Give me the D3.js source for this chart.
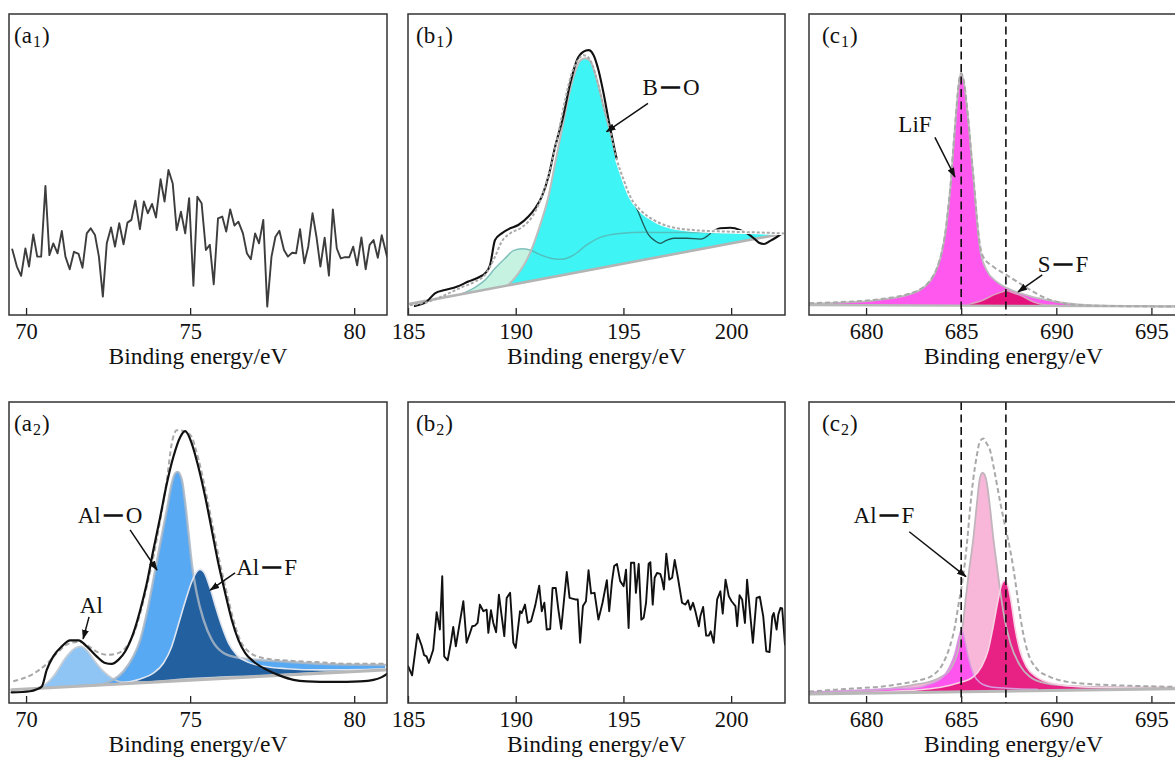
<!DOCTYPE html>
<html>
<head>
<meta charset="utf-8">
<script src="https://cdn.jsdelivr.net/npm/d3@7"></script>
<style>
  html, body { margin: 0; padding: 0; background: #fff; }
  svg { display: block; font-family: "Liberation Serif", "Times New Roman", serif; }
</style>
</head>
<body>
<svg id="chart" width="1175" height="763"></svg>
<script>
// ---------- axis extents and ticks (binding energy, eV) ----------
const aRange = [69.48, 81.0];
const bRange = [185, 202.5];
const cRange = [677, 698.5];
const intensityDomain = [0, 100];
const aTicks = [70, 75, 80];
const bTicks = [185, 190, 195, 200];
const cTicks = [680, 685, 690, 695];
const fRefLines = [685, 687.35];

// ---------- (a1) Al 2p, raw counts ----------
const a1Signal = [[69.58,21.8],[69.72,16.1],[69.85,13.0],[69.98,22.1],[70.09,16.1],[70.22,26.8],[70.34,19.4],[70.46,19.4],[70.59,42.9],[70.71,19.9],[70.83,23.8],[70.96,20.5],[71.09,27.9],[71.20,19.4],[71.33,15.2],[71.46,21.0],[71.60,20.3],[71.72,15.7],[71.85,27.1],[71.97,28.8],[72.10,26.6],[72.22,19.4],[72.34,6.1],[72.46,23.8],[72.59,29.1],[72.71,22.7],[72.84,30.5],[72.97,23.5],[73.09,30.7],[73.21,31.6],[73.33,38.0],[73.47,28.5],[73.59,37.7],[73.71,33.8],[73.84,36.9],[73.96,32.4],[74.10,45.1],[74.22,37.7],[74.34,48.2],[74.47,43.7],[74.59,28.2],[74.72,34.3],[74.85,27.1],[74.97,38.8],[75.10,9.7],[75.22,39.3],[75.35,37.1],[75.48,21.6],[75.60,23.3],[75.72,10.2],[75.85,32.1],[75.98,32.7],[76.10,27.7],[76.22,35.1],[76.35,29.7],[76.47,31.0],[76.61,27.1],[76.73,20.5],[76.85,18.5],[76.98,27.1],[77.10,23.8],[77.23,31.6],[77.35,2.8],[77.48,19.4],[77.60,26.0],[77.72,28.0],[77.86,21.6],[77.98,19.4],[78.11,20.7],[78.23,20.5],[78.35,28.5],[78.48,17.2],[78.60,22.7],[78.73,33.8],[78.85,26.0],[78.97,16.1],[79.10,25.7],[79.23,13.1],[79.35,35.1],[79.47,22.1],[79.59,18.8],[79.72,19.2],[79.85,19.2],[79.97,22.7],[80.09,16.5],[80.22,25.8],[80.35,15.2],[80.47,23.3],[80.59,24.9],[80.72,19.0],[80.84,26.5],[81.00,19.4]];

// ---------- (a2) Al 2p, fitted ----------
const a2Measured = [[69.56,3.5],[70.12,3.9],[70.33,4.6],[70.48,5.5],[70.63,11.0],[70.83,15.5],[71.09,18.8],[71.34,20.8],[71.60,20.8],[71.85,18.8],[72.15,15.5],[72.41,13.3],[72.61,13.0],[72.82,14.4],[73.02,17.1],[73.27,23.2],[73.48,30.9],[73.68,39.8],[73.88,50.8],[74.09,61.9],[74.29,72.9],[74.49,81.8],[74.70,88.4],[74.85,90.3],[75.05,86.2],[75.25,78.5],[75.46,68.5],[75.66,57.5],[75.86,46.4],[76.07,36.5],[76.27,27.6],[76.47,21.0],[76.68,16.6],[76.93,13.8],[77.34,11.0],[77.74,9.1],[78.15,7.7],[78.56,7.2],[79.37,7.0],[80.18,7.2],[80.59,7.7],[80.84,8.6],[81.00,9.7]];
const a2Envelope = [[69.61,7.2],[70.22,9.7],[70.63,13.0],[70.99,17.1],[71.29,19.7],[71.60,20.3],[71.85,19.3],[72.15,17.1],[72.46,16.0],[72.76,16.4],[73.02,18.2],[73.27,22.7],[73.48,29.8],[73.68,38.7],[73.88,48.6],[74.09,60.8],[74.29,74.0],[74.44,86.2],[74.59,90.6],[74.80,90.4],[75.05,88.4],[75.15,85.1],[75.36,76.2],[75.53,67.4],[75.71,57.5],[75.91,46.4],[76.12,36.5],[76.32,27.6],[76.52,21.0],[76.78,17.1],[77.24,14.9],[77.95,14.1],[78.96,13.5],[79.98,13.0],[80.95,13.0]];
const a2Baseline = [[69.56,4.4],[80.94,11.0]];
const a2Al = [[70.33,4.9],[70.58,6.1],[70.83,8.8],[71.24,15.5],[71.49,18.2],[71.67,18.8],[71.85,17.5],[72.10,13.8],[72.36,10.5],[72.66,8.0],[72.97,6.9],[73.48,6.9],[74.90,8.0],[77.34,9.2],[80.94,11.3]];
const a2AlO = [[71.54,5.6],[72.26,6.1],[72.66,7.7],[72.97,10.5],[73.27,15.5],[73.48,21.0],[73.68,29.8],[73.88,40.9],[74.09,53.0],[74.29,64.1],[74.44,72.9],[74.54,76.2],[74.62,76.8],[74.75,74.0],[74.85,66.3],[74.95,56.4],[75.05,46.4],[75.20,36.5],[75.41,27.6],[75.66,21.0],[76.02,16.6],[76.52,14.9],[76.93,14.4],[77.95,13.7],[78.96,13.0],[80.94,12.6]];
const a2AlF = [[72.87,6.6],[73.48,8.0],[73.88,9.9],[74.19,13.3],[74.44,18.8],[74.64,26.0],[74.85,33.7],[75.05,40.3],[75.20,43.6],[75.30,44.4],[75.43,43.3],[75.61,38.1],[75.79,31.5],[75.97,25.4],[76.17,19.9],[76.42,16.0],[76.78,13.5],[77.24,12.2],[77.95,11.4],[78.96,11.0],[80.94,11.3]];

// ---------- (b1) B 1s, fitted ----------
const b1Measured = [[185.32,3.0],[185.86,4.4],[186.25,7.2],[186.71,8.3],[187.26,9.4],[187.80,11.1],[188.34,12.7],[188.57,13.8],[188.81,16.6],[189.04,24.9],[189.35,27.1],[189.74,28.8],[190.12,29.9],[190.59,32.7],[190.90,35.4],[191.21,39.3],[191.52,46.0],[191.83,55.9],[192.18,65.3],[192.53,77.0],[192.84,84.7],[193.15,87.5],[193.38,88.0],[193.61,86.4],[193.84,81.4],[194.08,73.6],[194.31,64.8],[194.47,59.2],[194.70,51.5],[195.01,44.9],[195.32,39.3],[195.78,34.9],[196.40,31.6],[197.18,29.3],[198.26,28.2],[199.04,27.7],[199.50,28.8],[199.97,29.0],[200.43,28.2],[200.74,27.1],[201.05,25.5],[201.29,24.0],[201.52,23.6],[201.83,24.7],[202.14,26.0],[202.37,27.1]];
const b1Envelope = [[185.09,3.3],[185.94,4.4],[186.71,6.6],[187.49,9.2],[188.11,11.1],[188.57,13.3],[189.04,19.4],[189.35,24.4],[189.74,27.1],[190.28,29.1],[190.74,32.4],[191.05,36.5],[191.36,42.6],[191.67,50.4],[191.98,60.4],[192.29,71.4],[192.60,80.3],[192.91,84.9],[193.15,86.3],[193.30,86.0],[193.53,83.6],[193.77,78.1],[194.08,69.2],[194.39,60.9],[194.70,51.5],[195.01,44.9],[195.32,39.3],[195.78,34.9],[196.40,31.6],[197.18,29.3],[198.26,28.2],[199.81,27.7],[201.36,27.4],[202.45,27.1]];
const b1Baseline = [[185.09,3.7],[202.45,27.1]];
const b1BO = [[189.66,10.0],[190.12,13.8],[190.59,19.4],[190.90,24.9],[191.21,31.6],[191.52,39.3],[191.83,50.4],[192.14,61.5],[192.45,72.5],[192.76,80.8],[192.99,84.5],[193.22,85.3],[193.45,84.5],[193.77,78.1],[194.08,69.2],[194.39,60.9],[194.70,51.5],[195.01,44.9],[195.32,39.3],[195.78,34.9],[196.40,31.6],[197.18,29.3],[198.26,28.2],[199.81,27.7],[201.36,27.4],[202.45,27.1]];
const b1Minor = [[187.49,7.0],[188.11,9.2],[188.57,11.6],[189.04,15.5],[189.50,18.8],[189.89,21.4],[190.28,22.0],[190.67,21.6],[191.05,20.3],[191.67,18.8],[192.14,18.5],[192.68,19.9],[193.30,23.3],[193.92,25.8],[194.85,27.1],[195.94,27.5],[196.71,27.4],[197.95,27.4],[199.81,27.4],[201.36,27.2],[202.45,27.1]];
const b1Trace = [[195.32,39.3],[195.63,35.2],[195.94,29.9],[196.17,26.6],[196.48,24.6],[196.71,23.8],[197.02,24.9],[197.33,25.5],[197.95,25.5],[198.57,25.2],[199.04,27.1]];

// ---------- (b2) B 1s, raw counts ----------
const b2Signal = [[185.01,12.2],[185.19,9.2],[185.44,22.9],[185.63,19.1],[185.75,15.9],[185.86,15.5],[185.97,13.3],[186.17,17.7],[186.33,30.2],[186.48,24.4],[186.59,42.1],[186.68,15.5],[186.84,14.2],[186.99,20.0],[187.10,25.3],[187.22,18.8],[187.36,24.9],[187.57,33.8],[187.72,20.0],[187.88,23.3],[187.98,25.5],[188.11,25.7],[188.23,26.6],[188.34,32.7],[188.50,30.5],[188.65,31.0],[188.73,23.3],[188.85,30.8],[188.96,26.6],[189.09,23.5],[189.22,36.0],[189.35,28.8],[189.47,22.2],[189.58,34.9],[189.74,36.6],[189.89,20.0],[190.00,18.3],[190.20,30.5],[190.28,29.9],[190.43,32.7],[190.56,26.6],[190.71,27.2],[190.90,32.2],[191.09,39.0],[191.21,30.5],[191.33,33.3],[191.44,24.4],[191.60,24.6],[191.71,38.2],[191.86,38.2],[191.98,31.0],[192.11,24.6],[192.26,35.5],[192.37,43.5],[192.50,34.9],[192.76,34.4],[192.88,34.4],[192.99,20.0],[193.12,32.2],[193.26,33.8],[193.38,44.1],[193.50,36.4],[193.66,36.6],[193.84,27.7],[194.03,33.3],[194.23,40.8],[194.34,30.5],[194.47,40.5],[194.57,45.5],[194.70,46.2],[194.85,40.5],[195.01,38.8],[195.12,44.3],[195.24,24.9],[195.35,46.6],[195.50,46.6],[195.58,36.6],[195.71,46.2],[195.83,27.7],[195.94,28.3],[196.05,33.3],[196.17,46.3],[196.25,46.8],[196.36,32.7],[196.45,41.6],[196.56,43.2],[196.71,42.9],[196.79,41.0],[196.88,37.7],[196.99,49.6],[197.13,41.0],[197.26,41.6],[197.38,47.5],[197.53,41.6],[197.72,33.3],[197.88,32.7],[198.00,34.1],[198.11,31.0],[198.23,33.3],[198.34,30.5],[198.50,25.5],[198.57,28.8],[198.70,31.9],[198.84,22.4],[198.96,22.4],[199.05,23.8],[199.19,20.0],[199.35,34.4],[199.50,37.1],[199.61,29.7],[199.74,41.0],[199.89,35.5],[200.02,33.8],[200.20,32.2],[200.28,25.5],[200.39,35.8],[200.51,34.4],[200.64,26.6],[200.74,41.0],[200.90,28.3],[201.01,20.0],[201.18,34.9],[201.33,35.3],[201.49,28.8],[201.63,17.2],[201.78,16.9],[201.91,28.8],[201.98,29.9],[202.11,24.4],[202.19,29.4],[202.29,31.6],[202.37,31.4],[202.50,19.4]];

// ---------- (c1) F 1s, fitted ----------
const c1Baseline = [[677.0,3.3],[698.5,2.8]];
const c1Envelope = [[677.0,3.9],[678.63,4.3],[680.38,5.0],[681.25,5.7],[682.13,6.8],[682.83,8.5],[683.35,11.3],[683.70,15.2],[683.97,20.7],[684.19,28.4],[684.33,36.2],[684.46,44.5],[684.58,55.0],[684.72,66.1],[684.84,75.0],[684.93,79.3],[685.00,80.4],[685.07,79.5],[685.18,76.2],[685.28,70.6],[685.42,61.8],[685.54,52.9],[685.67,44.0],[685.77,36.3],[685.88,28.6],[686.02,22.0],[686.16,19.3],[686.68,16.1],[687.38,13.3],[688.08,10.5],[688.78,7.8],[689.48,5.5],[690.36,3.9],[691.23,3.3],[692.81,3.0],[697.0,2.8]];
const c1LiF = [[677.0,3.7],[678.63,4.1],[680.38,4.8],[681.25,5.5],[682.13,6.6],[682.83,8.3],[683.35,11.1],[683.70,15.0],[683.97,20.5],[684.19,28.2],[684.33,36.0],[684.46,44.3],[684.58,54.8],[684.72,65.9],[684.84,74.8],[684.93,79.0],[685.00,80.1],[685.07,79.2],[685.18,75.9],[685.28,70.3],[685.42,61.5],[685.54,52.6],[685.67,43.7],[685.77,36.0],[685.88,28.2],[686.02,21.0],[686.33,15.0],[686.86,11.1],[687.56,8.5],[688.43,6.6],[689.48,5.0],[690.53,3.9],[691.76,3.3],[697.0,2.8]];
const c1SF = [[685.46,3.7],[686.16,5.0],[686.68,6.6],[687.12,7.6],[687.35,8.1],[687.73,7.4],[688.26,6.1],[688.78,4.4],[689.31,3.5],[690.01,3.2]];

// ---------- (c2) F 1s, fitted ----------
const c2Baseline = [[677.0,3.0],[698.5,4.9]];
const c2Envelope = [[677.0,3.8],[679.50,4.9],[680.73,5.4],[681.78,6.3],[682.83,7.6],[683.53,9.3],[684.05,13.2],[684.40,18.7],[684.67,25.4],[684.84,32.0],[685.02,38.6],[685.19,46.4],[685.32,54.2],[685.46,64.1],[685.63,74.1],[685.81,81.8],[685.98,86.8],[686.16,87.9],[686.33,86.3],[686.51,84.1],[686.77,76.3],[687.03,67.4],[687.24,60.8],[687.47,54.2],[687.73,45.3],[687.91,37.5],[688.08,29.8],[688.26,23.1],[688.52,16.5],[688.96,11.5],[689.66,8.7],[690.53,7.1],[691.76,6.3],[693.51,5.8],[697.0,5.3]];
const c2Light = [[677.0,3.3],[679.5,3.9],[681.25,4.8],[682.48,6.0],[683.70,7.9],[684.40,11.0],[684.84,17.6],[685.07,25.4],[685.25,35.3],[685.42,44.2],[685.63,54.2],[685.81,65.2],[685.98,74.6],[686.12,76.5],[686.30,74.6],[686.51,65.2],[686.68,55.3],[686.86,46.4],[687.07,36.4],[687.29,27.6],[687.59,19.8],[688.08,12.6],[688.61,8.7],[689.48,6.5],[690.88,5.6],[693.51,5.2],[697.0,5.1]];
const c2Magenta = [[677.0,3.6],[679.5,4.2],[681.25,4.7],[682.65,5.1],[683.35,6.3],[684.05,8.7],[684.40,12.1],[684.67,16.5],[684.84,20.9],[685.02,24.3],[685.19,20.9],[685.37,15.4],[685.63,9.9],[685.98,6.8],[686.51,5.4],[687.38,4.9],[689.0,4.6]];
const c2Deep = [[680.0,3.4],[681.5,3.9],[683.00,4.5],[684.05,5.4],[684.75,6.5],[685.63,8.7],[686.07,12.1],[686.42,17.6],[686.68,25.4],[686.94,34.2],[687.12,39.2],[687.29,40.6],[687.47,38.6],[687.64,33.1],[687.82,25.4],[688.08,17.6],[688.43,12.1],[688.96,8.7],[689.83,6.5],[691.23,5.4],[693.51,5.0],[697.0,4.9]];

// ---------- layout ----------
const cols = {
  a: { left: 9,   right: 387,  domain: aRange, ticks: aTicks, labelX: 14 },
  b: { left: 408, right: 785,  domain: bRange, ticks: bTicks, labelX: 416 },
  c: { left: 809, right: 1218, domain: cRange, ticks: cTicks, labelX: 822 }
};
const rows = [ { top: 14, bottom: 315 }, { top: 402, bottom: 703 } ];

const svg = d3.select('#chart');
svg.append('rect').attr('width', 1175).attr('height', 763).attr('fill', '#fff');
const defs = svg.append('defs');
defs.append('marker')
  .attr('id', 'arrowhead')
  .attr('viewBox', '0 0 10 10').attr('refX', 9).attr('refY', 5)
  .attr('markerWidth', 10).attr('markerHeight', 7)
  .attr('markerUnits', 'userSpaceOnUse').attr('orient', 'auto')
  .attr('preserveAspectRatio', 'none')
  .append('path').attr('d', 'M0,0L10,5L0,10z').attr('fill', '#111');

function makePanel(colKey, rowIdx, sub) {
  const col = cols[colKey], row = rows[rowIdx];
  const x = d3.scaleLinear().domain(col.domain).range([col.left, col.right]);
  const y = d3.scaleLinear().domain(intensityDomain).range([row.bottom, row.top]);
  const id = 'clip-' + colKey + sub;
  defs.append('clipPath').attr('id', id).append('rect')
    .attr('x', col.left).attr('y', row.top)
    .attr('width', col.right - col.left).attr('height', row.bottom - row.top);
  const g = svg.append('g');
  const plot = g.append('g').attr('clip-path', `url(#${id})`);
  return { x, y, g, plot, col, row, colKey, sub };
}

function finishPanel(p) {
  const { col, row } = p;
  // inward ticks along the bottom edge
  const axis = d3.axisBottom(p.x).tickValues(col.ticks).tickFormat(d3.format('d'))
    .tickSizeInner(-7).tickSizeOuter(0).tickPadding(8);
  const ax = p.g.append('g').attr('transform', `translate(0,${row.bottom})`).call(axis);
  ax.select('.domain').remove();
  ax.selectAll('line').attr('stroke', '#222').attr('stroke-width', 1.3);
  ax.selectAll('text').attr('font-family', '"Liberation Serif", "Times New Roman", serif')
    .attr('font-size', 22.5).attr('fill', '#111');
  // frame
  p.g.append('rect')
    .attr('x', col.left).attr('y', row.top)
    .attr('width', col.right - col.left).attr('height', row.bottom - row.top)
    .attr('fill', 'none').attr('stroke', '#333').attr('stroke-width', 1.5);
  // panel tag, e.g. (a1)
  const tag = p.g.append('text').attr('x', col.labelX).attr('y', row.top + 29)
    .attr('font-size', 23).attr('fill', '#111');
  tag.append('tspan').text('(' + p.colKey);
  tag.append('tspan').attr('font-size', 16).attr('dx', 1).attr('dy', 4).text(p.sub);
  tag.append('tspan').attr('dx', 1).attr('dy', -4).text(')');
  // axis title
  p.g.append('text')
    .attr('x', (col.left + col.right) / 2).attr('y', row.bottom + 49)
    .attr('text-anchor', 'middle').attr('font-size', 23.5).attr('fill', '#111')
    .text('Binding energy/eV');
}

function baseFn(base) {
  return d3.scaleLinear().domain(base.map(d => d[0])).range(base.map(d => d[1]));
}

function drawLine(p, data, opts) {
  const gen = d3.line().x(d => p.x(d[0])).y(d => p.y(d[1]))
    .curve(opts.curve || d3.curveMonotoneX);
  const path = p.plot.append('path').datum(data).attr('d', gen)
    .attr('fill', 'none').attr('stroke', opts.stroke).attr('stroke-width', opts.width)
    .attr('stroke-linejoin', 'round').attr('stroke-linecap', 'round');
  if (opts.dash) path.attr('stroke-dasharray', opts.dash).attr('stroke-linecap', 'butt');
  if (opts.opacity != null) path.attr('stroke-opacity', opts.opacity);
  return path;
}

function drawArea(p, data, base, fill, opacity) {
  const bf = baseFn(base);
  const gen = d3.area().x(d => p.x(d[0]))
    .y0(d => p.y(bf(d[0]))).y1(d => p.y(d[1]))
    .curve(d3.curveMonotoneX);
  p.plot.append('path').datum(data).attr('d', gen)
    .attr('fill', fill).attr('fill-opacity', opacity == null ? 1 : opacity).attr('stroke', 'none');
}

function drawRefLines(p, values) {
  p.plot.selectAll(null).data(values).enter().append('line')
    .attr('x1', d => p.x(d)).attr('x2', d => p.x(d))
    .attr('y1', p.row.top).attr('y2', p.row.bottom)
    .attr('stroke', '#111').attr('stroke-width', 1.6).attr('stroke-dasharray', '8,4.5');
}

// label + arrow, positioned in data units (eV, intensity)
function annotate(p, a) {
  const t = p.g.append('text')
    .attr('x', p.x(a.at[0])).attr('y', p.y(a.at[1]))
    .attr('text-anchor', 'middle').attr('font-size', 23).attr('fill', '#111');
  t.append('tspan').text(a.parts[0]);
  if (a.parts.length > 1) {
    t.append('tspan').attr('dx', 4).attr('dy', -3.6).attr('font-size', 17)
      .attr('stroke', '#111').attr('stroke-width', 1.9).text('\u2014');
    t.append('tspan').attr('dx', 4).attr('dy', 3.6).text(a.parts[1]);
  }
  p.g.append('line')
    .attr('x1', p.x(a.from[0])).attr('y1', p.y(a.from[1]))
    .attr('x2', p.x(a.to[0])).attr('y2', p.y(a.to[1]))
    .attr('stroke', '#111').attr('stroke-width', 1.5)
    .attr('marker-end', 'url(#arrowhead)');
}

const envStyle = { stroke: '#a9a9a9', width: 2, dash: '5,3' };
const outline = '#bdbdbd';

// ---------- (a1) ----------
{
  const p = makePanel('a', 0, '1');
  drawLine(p, a1Signal, { stroke: '#3d3d3d', width: 1.9, curve: d3.curveLinear });
  finishPanel(p);
}

// ---------- (b1) ----------
{
  const p = makePanel('b', 0, '1');
  drawArea(p, b1Minor, b1Baseline, '#c6f2e2');
  drawArea(p, b1BO, b1Baseline, '#3ff4f4');
  drawLine(p, b1Minor, { stroke: '#5aa9a6', width: 1.5, opacity: 0.7 });
  drawLine(p, b1BO, { stroke: outline, width: 2 });
  drawLine(p, b1Trace, { stroke: '#1f5a5a', width: 1.3 });
  drawLine(p, b1Baseline, { stroke: '#b4b4b4', width: 2.6, curve: d3.curveLinear });
  drawLine(p, b1Measured, { stroke: '#111', width: 2.1 });
  // fitted envelope sits over the measured trace where the two coincide
  drawLine(p, b1Envelope.filter(d => d[0] >= 194.4), { stroke: '#fff', width: 3.6 });
  drawLine(p, b1Envelope, { stroke: '#a9a9a9', width: 2, dash: '3,2' });
  finishPanel(p);
  annotate(p, { parts: ['B', 'O'], at: [197.21, 73.1], from: [196.14, 70.3], to: [194.22, 60.9] });
}

// ---------- (c1) ----------
{
  const p = makePanel('c', 0, '1');
  drawArea(p, c1LiF, c1Baseline, '#ff58ee');
  drawArea(p, c1SF, c1Baseline, '#e5127d');
  drawLine(p, c1LiF, { stroke: outline, width: 1.8 });
  drawLine(p, c1SF, { stroke: '#d9a0c0', width: 1.5 });
  drawLine(p, c1Baseline, { stroke: '#b8b8b8', width: 2.4, curve: d3.curveLinear });
  drawLine(p, c1Envelope, envStyle);
  drawRefLines(p, fRefLines);
  finishPanel(p);
  annotate(p, { parts: ['LiF'], at: [682.57, 60.9], from: [683.62, 59.0], to: [684.67, 45.9] });
  annotate(p, { parts: ['S', 'F'], at: [690.35, 14.4], from: [689.26, 13.3], to: [687.99, 7.7] });
}

// ---------- (a2) ----------
{
  const p = makePanel('a', 1, '2');
  drawArea(p, a2Al, a2Baseline, '#8ec5f5');
  drawArea(p, a2AlO, a2Baseline, '#4aa3f2', 0.93);
  drawArea(p, a2AlF, a2Baseline, '#23609f');
  drawLine(p, a2Al, { stroke: '#c4ccd6', width: 1.8 });
  drawLine(p, a2AlO, { stroke: '#a9b6c4', width: 2.4, opacity: 0.85 });
  drawLine(p, a2AlF, { stroke: '#dfe5ee', width: 1.6 });
  drawLine(p, a2Baseline, { stroke: '#b8b8b8', width: 3, curve: d3.curveLinear });
  drawLine(p, a2Envelope, envStyle);
  drawLine(p, a2Measured, { stroke: '#111', width: 2.2 });
  finishPanel(p);
  annotate(p, { parts: ['Al'], at: [71.99, 29.9], from: [71.92, 28.6], to: [71.74, 21.3] });
  annotate(p, { parts: ['Al', 'O'], at: [72.56, 59.8], from: [73.17, 57.5], to: [73.99, 44.2] });
  annotate(p, { parts: ['Al', 'F'], at: [77.33, 42.5], from: [76.37, 43.2], to: [75.61, 37.5] });
}

// ---------- (b2) ----------
{
  const p = makePanel('b', 1, '2');
  drawLine(p, b2Signal, { stroke: '#111', width: 1.9, curve: d3.curveLinear });
  finishPanel(p);
}

// ---------- (c2) ----------
{
  const p = makePanel('c', 1, '2');
  drawArea(p, c2Light, c2Baseline, '#f8b7d8');
  drawArea(p, c2Magenta, c2Baseline, '#ff4ff0', 0.95);
  drawArea(p, c2Deep, c2Baseline, '#e6197f', 0.95);
  drawLine(p, c2Light, { stroke: '#c2b4bc', width: 1.8 });
  drawLine(p, c2Magenta, { stroke: '#d79be0', width: 1.5 });
  drawLine(p, c2Deep, { stroke: '#f7d3e4', width: 1.6 });
  drawLine(p, c2Baseline, { stroke: '#b8b8b8', width: 3, curve: d3.curveLinear });
  drawLine(p, c2Envelope, envStyle);
  drawRefLines(p, fRefLines);
  finishPanel(p);
  annotate(p, { parts: ['Al', 'F'], at: [680.94, 59.8], from: [682.27, 56.9], to: [685.25, 42.0] });
}
</script>
</body>
</html>
